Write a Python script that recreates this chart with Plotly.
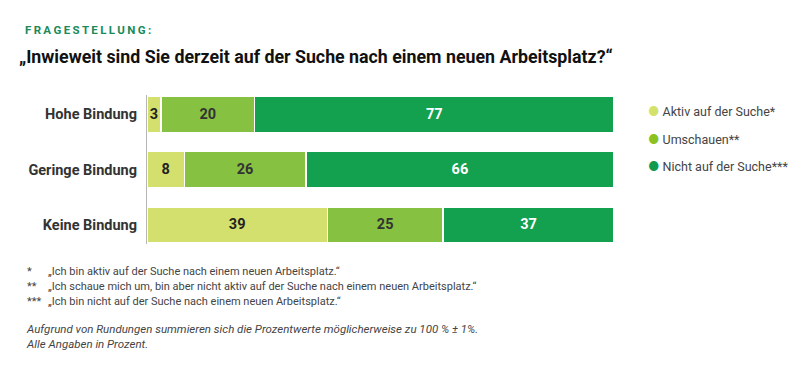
import plotly.graph_objects as go

categories = ["Hohe Bindung", "Geringe Bindung", "Keine Bindung"]
series_names = ["Aktiv auf der Suche*", "Umschauen**", "Nicht auf der Suche***"]
aktiv = [3, 8, 39]
umschauen = [20, 26, 25]
nicht = [77, 66, 37]
series_values = [aktiv, umschauen, nicht]
bar_colors = ["#d4e06d", "#86c142", "#13a04f"]
legend_colors = ["#d4e26b", "#8cc21f", "#0f9a50"]
text_colors = ["#222222", "#333333", "#ffffff"]

footnote_marks = ["*", "**", "***"]
footnote_texts = [
    "„Ich bin aktiv auf der Suche nach einem neuen Arbeitsplatz.“",
    "„Ich schaue mich um, bin aber nicht aktiv auf der Suche nach einem neuen Arbeitsplatz.“",
    "„Ich bin nicht auf der Suche nach einem neuen Arbeitsplatz.“",
]
note_lines = [
    "Aufgrund von Rundungen summieren sich die Prozentwerte möglicherweise zu 100 % ± 1%.",
    "Alle Angaben in Prozent.",
]
kicker = "FRAGESTELLUNG:"
question = "„Inwieweit sind Sie derzeit auf der Suche nach einem neuen Arbeitsplatz?“"

W, H = 810, 367
OFF = 8  # page body offset
SX0, SX1, SY0, SY1 = 147, 614, 95, 244
ML, MT = SX0 - OFF, SY0 - OFF
MR = W - (SX1 - OFF)
MB = H - (SY1 - OFF)
PW, PH = SX1 - SX0, SY1 - SY0
FONT = "Roboto, Inter, Arial, sans-serif"


def px(x):
    return (x - SX0) / PW


def py(y):
    return (SY1 - y) / PH


fig = go.Figure()
for name, vals, col, tcol in zip(series_names, series_values, bar_colors, text_colors):
    fig.add_trace(go.Bar(
        y=categories, x=vals, name=name, orientation="h",
        marker=dict(color=col, line=dict(color="white", width=1.5)),
        text=[str(v) for v in vals], textposition="inside",
        insidetextanchor="middle", textangle=0,
        textfont=dict(family=FONT, size=14.5, color=tcol, weight="bold"),
        width=0.65, showlegend=False, hoverinfo="skip",
    ))

ann = []
ann.append(dict(text="\u2009".join(kicker), x=px(23), y=py(30), xref="paper", yref="paper",
                xanchor="left", yanchor="middle", showarrow=False,
                font=dict(family=FONT, size=11.5, color="#1a8a5a", weight="bold")))
ann.append(dict(text=question, x=px(17), y=py(57), xref="paper", yref="paper",
                xanchor="left", yanchor="middle", showarrow=False,
                font=dict(family=FONT, size=17.8, color="#111111", weight="bold")))
for i, (name, col) in enumerate(zip(series_names, legend_colors)):
    yy = [111, 139, 166][i]
    ann.append(dict(text=f'<span style="color:{col}">●</span> {name}', x=px(646), y=py(yy),
                    xref="paper", yref="paper", xanchor="left", yanchor="middle",
                    showarrow=False, font=dict(family=FONT, size=12.5, color="#444444")))
for i, (m, t) in enumerate(zip(footnote_marks, footnote_texts)):
    yy = [271, 286, 301][i]
    ann.append(dict(text=m, x=px(25), y=py(yy), xref="paper", yref="paper",
                    xanchor="left", yanchor="middle", showarrow=False,
                    font=dict(family=FONT, size=11, color="#444444")))
    ann.append(dict(text=t, x=px(46), y=py(yy), xref="paper", yref="paper",
                    xanchor="left", yanchor="middle", showarrow=False,
                    font=dict(family=FONT, size=11, color="#444444")))
for i, t in enumerate(note_lines):
    yy = [329, 344][i]
    ann.append(dict(text=f"<i>{t}</i>", x=px(24), y=py(yy), xref="paper", yref="paper",
                    xanchor="left", yanchor="middle", showarrow=False,
                    font=dict(family=FONT, size=11.5, color="#444444")))

fig.update_layout(
    width=W, height=H, barmode="stack", barnorm="percent",
    margin=dict(l=ML, r=MR, t=MT, b=MB),
    paper_bgcolor="white", plot_bgcolor="white",
    uniformtext=dict(minsize=14, mode="show"),
    xaxis=dict(visible=False, range=[0, 100], fixedrange=True),
    yaxis=dict(categoryorder="array", categoryarray=categories,
               range=[2.35, -0.35], showline=True, linecolor="#b5b5b5", linewidth=1.2,
               showgrid=False, zeroline=False, ticks="", ticklabelstandoff=6,
               tickfont=dict(family=FONT, size=14.5, color="#333333", weight="bold")),
    annotations=ann,
    font=dict(family=FONT),
)

fig.write_html("out.html")
